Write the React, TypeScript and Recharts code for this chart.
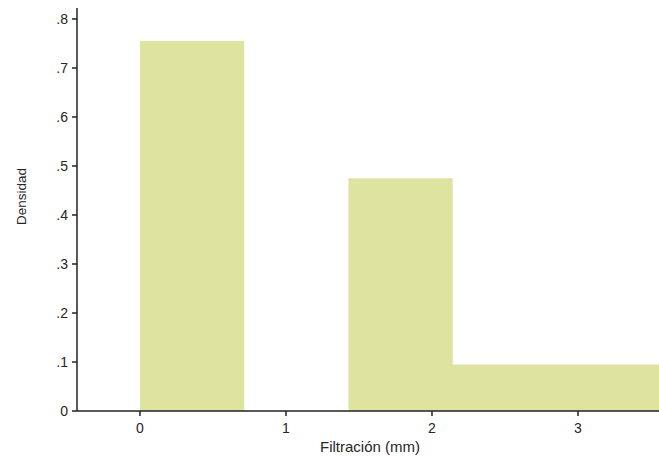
import React from "react";
import { ComposedChart, Area, XAxis, YAxis } from "recharts";

const binEdges = [0, 0.714, 1.428, 2.142, 2.856, 3.57];
const densities = [0.755, 0, 0.475, 0.095, 0.095];
const xTicks = [0, 1, 2, 3];
const yTicks = [0, 0.1, 0.2, 0.3, 0.4, 0.5, 0.6, 0.7, 0.8];
const xLabel = "Filtración (mm)";
const yLabel = "Densidad";

const data = binEdges.map((x, i) => ({
  x,
  density: densities[Math.min(i, densities.length - 1)],
}));

const FONT = "'Liberation Sans', Arial, sans-serif";
const AXIS = "#222222";
const TEXT = "#262626";

const fmtY = (v: number) => {
  if (Math.abs(v) < 1e-9) return "0";
  return "." + Math.round(v * 10);
};

export default function App() {
  return (
    <div style={{ position: "absolute", left: 0, top: 0, width: 659, height: 460, background: "#ffffff" }}>
      <ComposedChart
        width={659}
        height={460}
        data={data}
        margin={{ top: 8, right: 0, bottom: 0, left: 0 }}
        style={{ fontFamily: FONT }}
      >
        <XAxis
          dataKey="x"
          type="number"
          domain={[-0.4315, 3.555]}
          allowDataOverflow
          ticks={xTicks}
          tickFormatter={(v: number) => String(v)}
          height={49}
          tickSize={5}
          tickMargin={7}
          stroke={AXIS}
          strokeWidth={1.5}
          tick={{ fill: TEXT, fontSize: 14, fontFamily: FONT }}
          label={{
            content: (props: any) => {
              const vb = props.viewBox || { x: 77, y: 411, width: 582, height: 49 };
              return (
                <text
                  x={vb.x + vb.width / 2 + 2}
                  y={vb.y + 41}
                  textAnchor="middle"
                  fill={TEXT}
                  fontSize={15}
                  fontFamily={FONT}
                >
                  {xLabel}
                </text>
              );
            },
          }}
        />
        <YAxis
          type="number"
          domain={[0, 0.8224]}
          allowDataOverflow
          ticks={yTicks}
          tickFormatter={fmtY}
          width={77}
          tickSize={5}
          tickMargin={4}
          stroke={AXIS}
          strokeWidth={1.5}
          tick={{ fill: TEXT, fontSize: 14, fontFamily: FONT }}
          label={{
            content: (props: any) => {
              const vb = props.viewBox || { x: 0, y: 8, width: 77, height: 403 };
              const cx = vb.x + 26;
              const cy = vb.y + vb.height / 2 - 13;
              return (
                <text
                  x={cx}
                  y={cy}
                  transform={`rotate(-90 ${cx} ${cy})`}
                  textAnchor="middle"
                  fill={TEXT}
                  fontSize={13.5}
                  fontFamily={FONT}
                >
                  {yLabel}
                </text>
              );
            },
          }}
        />
        <Area
          dataKey="density"
          type="stepAfter"
          fill="#dee4a0"
          fillOpacity={1}
          stroke="none"
          baseValue={0}
          isAnimationActive={false}
          dot={false}
          activeDot={false}
        />
      </ComposedChart>
    </div>
  );
}
